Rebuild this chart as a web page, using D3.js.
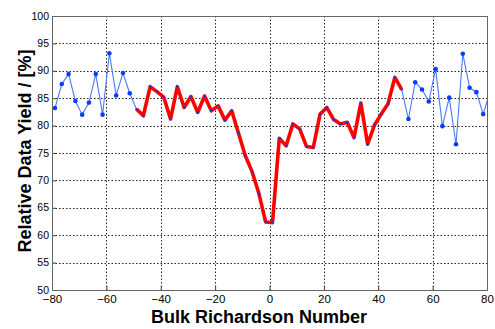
<!DOCTYPE html>
<html>
<head>
<meta charset="utf-8">
<script src="https://cdn.jsdelivr.net/npm/d3@7"></script>
<style>
  html, body { margin: 0; padding: 0; background: #fff; }
  svg { display: block; }
  .xax .tick text { font-family: "Liberation Sans Narrow", "Liberation Sans", Arial, sans-serif; font-size: 11.5px; fill: #000; }
  .yax .tick text { font-family: "Liberation Sans Narrow", "Liberation Sans", Arial, sans-serif; font-size: 10.5px; fill: #000; }
  .lbl { font-family: "Liberation Sans", Arial, sans-serif; font-weight: bold; font-size: 18px; fill: #000; }
</style>
</head>
<body>
<svg id="chart" width="495" height="329"></svg>
<script>
// Bulk Richardson number (bin positions)
const richardson = [-78.9, -76.4, -73.9, -71.4, -68.9, -66.4, -63.9, -61.4, -58.9, -56.4,
  -53.9, -51.4, -48.9, -46.4, -43.9, -41.4, -38.9, -36.4, -33.9, -31.4,
  -28.9, -26.4, -23.9, -21.4, -18.9, -16.4, -13.9, -11.4, -8.9, -6.4,
  -3.9, -1.4, 1.1, 3.6, 6.1, 8.6, 11.1, 13.6, 16.1, 18.6,
  21.1, 23.6, 26.1, 28.6, 31.1, 33.6, 36.1, 38.6, 41.1, 43.6,
  46.1, 48.6, 51.1, 53.6, 56.1, 58.6, 61.1, 63.6, 66.1, 68.6,
  71.1, 73.6, 76.1, 78.6, 81.1];
// Relative data yield [%]
const yieldPct = [83.2, 87.6, 89.4, 84.5, 82.0, 84.2, 89.4, 82.0, 93.2, 85.5,
  89.6, 85.9, 83.0, 81.8, 87.1, 86.2, 85.2, 81.2, 87.1, 83.3,
  85.3, 82.4, 85.4, 82.7, 83.6, 81.0, 82.7, 78.6, 74.5, 71.6,
  67.6, 62.4, 62.3, 77.7, 76.3, 80.3, 79.4, 76.2, 76.0, 82.1,
  83.3, 81.1, 80.3, 80.6, 77.8, 84.1, 76.6, 80.1, 82.1, 84.0,
  88.8, 86.6, 81.2, 87.9, 86.6, 84.4, 90.3, 79.9, 85.1, 76.6,
  93.1, 86.9, 86.1, 82.1, 86.2];
// index range of the highlighted (red) section
const highlightStart = 12;
const highlightEnd = 51;
const xTicks = [-80, -60, -40, -20, 0, 20, 40, 60, 80];
const yTicks = [50, 55, 60, 65, 70, 75, 80, 85, 90, 95, 100];

const data = richardson.map((x, i) => ({x, y: yieldPct[i], i}));
const svg = d3.select("#chart");
const m = {left: 52, top: 16, right: 495 - 487, bottom: 329 - 290};
const W = 495 - m.left - m.right, H = 329 - m.top - m.bottom;

const x = d3.scaleLinear().domain([-80, 80]).range([0, W]);
const y = d3.scaleLinear().domain([50, 100]).range([H, 0]);

const g = svg.append("g").attr("transform", `translate(${m.left},${m.top})`);

g.append("defs").append("clipPath").attr("id", "clip")
  .append("rect").attr("width", W).attr("height", H);

// grid
g.append("g").selectAll("line").data(xTicks.slice(1, -1)).join("line")
  .attr("x1", d => Math.round(x(d)) + 0.5).attr("x2", d => Math.round(x(d)) + 0.5)
  .attr("y1", 0).attr("y2", H)
  .attr("stroke", "#222").attr("stroke-width", 1).attr("stroke-dasharray", "1.5,2");
g.append("g").selectAll("line").data(yTicks.slice(1, -1)).join("line")
  .attr("y1", d => Math.round(y(d)) + 0.5).attr("y2", d => Math.round(y(d)) + 0.5)
  .attr("x1", 0).attr("x2", W)
  .attr("stroke", "#222").attr("stroke-width", 1).attr("stroke-dasharray", "1.5,2");

// axes
const xAxis = g.append("g").attr("class", "xax").attr("transform", `translate(0,${H})`)
  .call(d3.axisBottom(x).tickValues(xTicks).tickSize(-4).tickPadding(6).tickFormat(d3.format("d")));
const yAxis = g.append("g").attr("class", "yax")
  .call(d3.axisLeft(y).tickValues(yTicks).tickSize(-4).tickPadding(3).tickFormat(d3.format("d")));
[xAxis, yAxis].forEach(a => {
  a.select(".domain").remove();
  a.selectAll(".tick line").attr("stroke", "#444");
});
xAxis.selectAll(".tick text").attr("dy", "0.65em");
yAxis.selectAll(".tick text").attr("dy", "0.3em");

// frame
g.append("rect").attr("x", 0.5).attr("y", 0.5).attr("width", W).attr("height", H)
  .attr("fill", "none").attr("stroke", "#666").attr("stroke-width", 1);

const line = d3.line().x(d => x(d.x)).y(d => y(d.y));
const plot = g.append("g").attr("clip-path", "url(#clip)");

plot.append("path").datum(data)
  .attr("d", line).attr("fill", "none")
  .attr("stroke", "#4a78f0").attr("stroke-width", 1.1);

plot.append("path").datum(data.slice(highlightStart, highlightEnd + 1))
  .attr("d", line).attr("fill", "none")
  .attr("stroke", "#ff0000").attr("stroke-width", 3.6)
  .attr("stroke-linejoin", "round");

plot.append("g").selectAll("circle").data(data).join("circle")
  .attr("cx", d => x(d.x)).attr("cy", d => y(d.y))
  .attr("r", d => (d.i >= highlightStart && d.i <= highlightEnd) ? 1.2 : 2.3)
  .attr("fill", "#0a3cff");

// labels
svg.append("text").attr("class", "lbl")
  .attr("x", 259).attr("y", 323).attr("text-anchor", "middle")
  .text("Bulk Richardson Number");
svg.append("text").attr("class", "lbl")
  .attr("transform", "translate(31,151) rotate(-90)")
  .attr("text-anchor", "middle")
  .text("Relative Data Yield / [%]");
</script>
</body>
</html>
